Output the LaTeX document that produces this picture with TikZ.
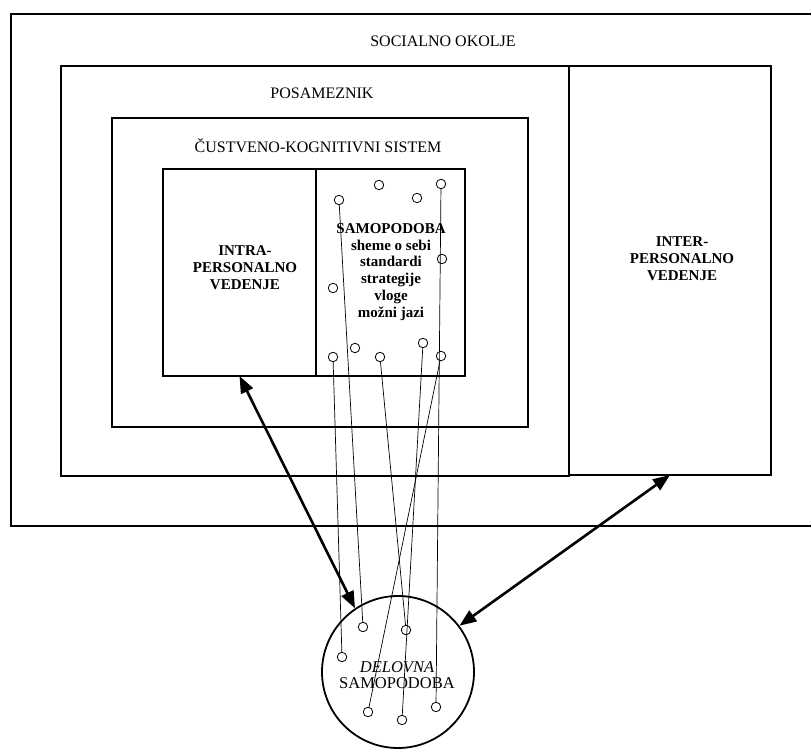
\documentclass[tikz,border=0pt]{standalone}
\usepackage{fontspec}
\setmainfont{Liberation Serif}
\usetikzlibrary{arrows.meta}
\tikzset{
  frame/.style={draw, line width=1.2pt, inner sep=0pt, outer sep=0pt},
  thickframe/.style={draw, line width=2.2pt, inner sep=0pt, outer sep=0pt},
  lbl/.style={inner sep=0pt, font=\fontsize{16}{17}\selectfont},
  blbl/.style={inner sep=0pt, align=center, font=\fontsize{15}{17}\selectfont\bfseries},
  dot/.style={circle, draw, line width=0.8pt, minimum size=9.5pt, inner sep=0pt},
  wire/.style={line width=0.7pt},
  bigarrow/.style={line width=2.6pt, {Triangle[length=17pt,width=13pt]}-{Triangle[length=17pt,width=13pt]}}
}
\begin{document}
\begin{tikzpicture}[x=1pt,y=-1pt]
\useasboundingbox (0,0) rectangle (811,749);
\clip (0,0) rectangle (811,749);
% frames
\node[frame, minimum width=869pt, minimum height=512pt] (outer) at (445.5,270) {};
\node[frame, minimum width=508pt, minimum height=410pt] (posam) at (315,271) {};
\node[frame, minimum width=202pt, minimum height=409pt] (inter) at (670,270.5) {};
\node[frame, minimum width=416pt, minimum height=309pt] (cust) at (320,272.5) {};
\node[thickframe, minimum width=153pt, minimum height=207pt] (intra) at (239.5,272.5) {};
\node[thickframe, minimum width=149pt, minimum height=207pt] (samo) at (390.5,272.5) {};
\node[circle, draw, line width=1.8pt, minimum size=152pt, inner sep=0pt] (dsam) at (398,672) {};
% labels
\node[lbl] (tsoc) at (443,41) {SOCIALNO OKOLJE};
\node[lbl] (tpos) at (322,93) {POSAMEZNIK};
\node[lbl] (tcus) at (318,146) {ČUSTVENO-KOGNITIVNI SISTEM};
\node[blbl] (tintra) at (245,268) {INTRA-\\PERSONALNO\\VEDENJE};
\node[blbl] (tinter) at (682,259) {INTER-\\PERSONALNO\\VEDENJE};
\node[blbl, font=\fontsize{15}{16.8}\selectfont\bfseries] (tsamo) at (391,272) {SAMOPODOBA\\sheme o sebi\\standardi\\strategije\\vloge\\možni jazi};
\node[lbl, align=center, font=\fontsize{16.5}{16.5}\selectfont] (tdel) at (397,675) {\textit{DELOVNA}\\SAMOPODOBA};
% small circles in self-concept box
\node[dot] (c1) at (339,200) {};
\node[dot] (c2) at (379,185) {};
\node[dot] (c3) at (417,198) {};
\node[dot] (c4) at (441,184) {};
\node[dot] (c5) at (442,259) {};
\node[dot] (c6) at (333,288) {};
\node[dot] (c7) at (355,348) {};
\node[dot] (c8) at (333,357) {};
\node[dot] (c9) at (380,357) {};
\node[dot] (c10) at (423,343) {};
\node[dot] (c11) at (441,356) {};
% small circles in working self-concept
\node[dot] (d1) at (363,627) {};
\node[dot] (d2) at (406,630) {};
\node[dot] (d3) at (342,657) {};
\node[dot] (d4) at (368,712) {};
\node[dot] (d5) at (402,720) {};
\node[dot] (d6) at (436,707) {};
% wires
\draw[wire] (c1) -- (d1);
\draw[wire] (c8) -- (d3);
\draw[wire] (c9) -- (d2);
\draw[wire] (c10) -- (d5);
\draw[wire] (c11) -- (d4);
\draw[wire] (c4) -- (d6);
% big arrows
\draw[bigarrow] (intra.south) -- (dsam.124);
\draw[bigarrow] (dsam.37) -- (inter.south);
\end{tikzpicture}
\end{document}
